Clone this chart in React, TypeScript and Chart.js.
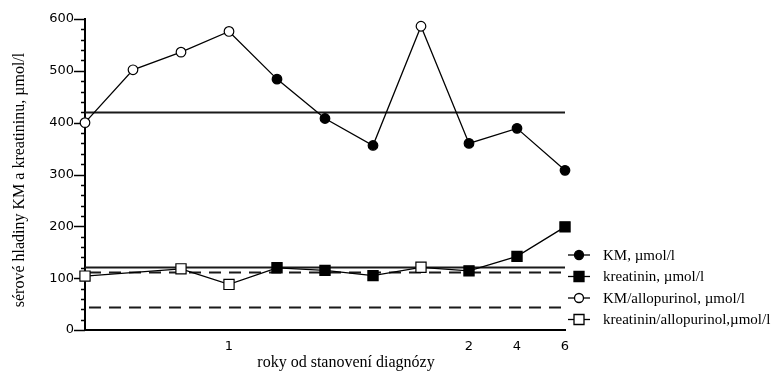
import React, { useEffect, useRef } from "react";
import { Chart, registerables } from "chart.js";

Chart.register(...registerables);

// Categories (x positions) and the tick labels shown under them
const xLabels = ["", "", "", "1", "", "", "", "", "2", "4", "6"];

// Series values (µmol/l); null = no measurement of that kind at that point
const kmValues = [null, null, null, null, 484, 408, 356, null, 360, 389, 308];
const kmAllopurinolValues = [400, 502, 536, 576, null, null, null, 586, null, null, null];
const kreatininValues = [null, null, null, null, 120, 115, 105, null, 114, 142, 199];
const kreatininAllopurinolValues = [104, null, 118, 88, null, null, null, 121, null, null, null];

// Reference levels
const solidLevels = [420, 122];
const dashedLevels = [112, 44];

// Axis
const yMin = 0;
const yMax = 600;
const yMajorStep = 100;
const yMinorStep = 20;

const legendLabels = [
  "KM, µmol/l",
  "kreatinin, µmol/l",
  "KM/allopurinol, µmol/l",
  "kreatinin/allopurinol,µmol/l",
];

const xTitle = "roky od stanovení diagnózy";
const yTitle = "sérové hladiny KM a kreatininu, µmol/l";

const SERIF = "'Liberation Serif', 'Times New Roman', serif";
const SANS = "'DejaVu Sans', Verdana, sans-serif";

const combine = (a: (number | null)[], b: (number | null)[]) =>
  a.map((v, i) => (v != null ? v : b[i]));

const decorPlugin = {
  id: "decor",
  beforeDatasetsDraw(chart: any) {
    const { ctx, chartArea, scales } = chart;
    const y = scales.y;
    ctx.save();
    ctx.strokeStyle = "#1a1a1a";
    ctx.lineWidth = 2;
    solidLevels.forEach((v) => {
      const py = Math.round(y.getPixelForValue(v)) + 0.5;
      ctx.setLineDash([]);
      ctx.beginPath();
      ctx.moveTo(chartArea.left, py);
      ctx.lineTo(chartArea.right, py);
      ctx.stroke();
    });
    dashedLevels.forEach((v) => {
      const py = Math.round(y.getPixelForValue(v)) + 0.5;
      ctx.setLineDash([12, 8]);
      ctx.beginPath();
      ctx.moveTo(chartArea.left + 4, py);
      ctx.lineTo(chartArea.right, py);
      ctx.stroke();
    });
    ctx.setLineDash([]);
    // y tick marks
    ctx.strokeStyle = "#000";
    ctx.lineWidth = 1.5;
    for (let v = yMin; v <= yMax; v += yMinorStep) {
      const py = Math.round(y.getPixelForValue(v)) + 0.5;
      const len = v % yMajorStep === 0 ? 11 : 4;
      ctx.beginPath();
      ctx.moveTo(chartArea.left - len, py);
      ctx.lineTo(chartArea.left, py);
      ctx.stroke();
    }
    ctx.restore();
  },
  afterDraw(chart: any) {
    const { ctx, chartArea } = chart;
    ctx.save();
    ctx.fillStyle = "#000";
    ctx.font = `16px ${SERIF}`;
    ctx.textAlign = "center";
    ctx.textBaseline = "middle";
    ctx.fillText(xTitle, 346, 363);
    ctx.save();
    ctx.translate(20, 180);
    ctx.rotate(-Math.PI / 2);
    ctx.fillText(yTitle, 0, 0);
    ctx.restore();

    // legend
    const rows = [255, 276.5, 298, 319.5];
    rows.forEach((ry, i) => {
      const x0 = chartArea.right + 3;
      const x1 = x0 + 22;
      const cx = (x0 + x1) / 2;
      ctx.strokeStyle = "#000";
      ctx.lineWidth = 1.3;
      ctx.beginPath();
      ctx.moveTo(x0, ry);
      ctx.lineTo(x1, ry);
      ctx.stroke();
      const filled = i < 2;
      const square = i % 2 === 1;
      ctx.fillStyle = filled ? "#000" : "#fff";
      ctx.beginPath();
      if (square) {
        ctx.rect(cx - 5, ry - 5, 10, 10);
      } else {
        ctx.arc(cx, ry, 4.5, 0, Math.PI * 2);
      }
      ctx.fill();
      ctx.stroke();
      ctx.fillStyle = "#000";
      ctx.textAlign = "left";
      ctx.font = `15px ${SERIF}`;
      ctx.fillText(legendLabels[i], x1 + 13, ry + 1);
    });
    ctx.restore();
  },
};

export default function App() {
  const ref = useRef<HTMLCanvasElement | null>(null);

  useEffect(() => {
    if (!ref.current) return;
    const kmAll = combine(kmValues, kmAllopurinolValues);
    const krAll = combine(kreatininValues, kreatininAllopurinolValues);
    const chart = new Chart(ref.current, {
      type: "line",
      data: {
        labels: xLabels,
        datasets: [
          {
            label: "KM",
            data: kmAll,
            borderColor: "#000",
            borderWidth: 1.3,
            pointStyle: "circle",
            pointRadius: 4.8,
            pointBorderWidth: 1.2,
            pointBorderColor: "#000",
            pointBackgroundColor: (c: any) =>
              kmAllopurinolValues[c.dataIndex] != null ? "#fff" : "#000",
            tension: 0,
          },
          {
            label: "kreatinin",
            data: krAll,
            spanGaps: true,
            borderColor: "#000",
            borderWidth: 1.3,
            pointStyle: "rect",
            pointRadius: 7.2,
            pointBorderWidth: 1.2,
            pointBorderColor: "#000",
            pointBackgroundColor: (c: any) =>
              kreatininAllopurinolValues[c.dataIndex] != null ? "#fff" : "#000",
            tension: 0,
          },
        ],
      },
      options: {
        responsive: false,
        animation: false,
        layout: { padding: { left: 0, right: 214, top: 19, bottom: 0 } },
        plugins: {
          legend: { display: false },
          tooltip: { enabled: false },
        },
        scales: {
          x: {
            type: "category",
            offset: false,
            grid: { display: false, drawTicks: false },
            border: { display: true, color: "#000", width: 2 },
            ticks: {
              autoSkip: false,
              maxRotation: 0,
              color: "#000",
              padding: 9,
              font: { family: SANS, size: 13 },
            },
            afterFit: (s: any) => {
              s.height = 41;
            },
          },
          y: {
            min: yMin,
            max: yMax,
            grid: { display: false, drawTicks: false },
            border: { display: true, color: "#000", width: 2 },
            ticks: {
              stepSize: yMajorStep,
              color: "#000",
              padding: 11,
              font: { family: SANS, size: 13 },
            },
            afterFit: (s: any) => {
              s.width = 85;
            },
          },
        },
      },
      plugins: [decorPlugin],
    });
    return () => chart.destroy();
  }, []);

  return (
    <canvas
      ref={ref}
      width={779}
      height={371}
      style={{ position: "absolute", left: 0, top: 0, display: "block" }}
    />
  );
}
